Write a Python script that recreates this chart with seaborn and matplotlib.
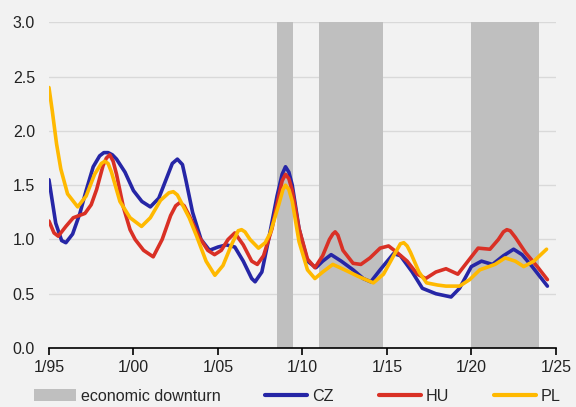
import numpy as np
import pandas as pd
import matplotlib
matplotlib.use("Agg")
import matplotlib.pyplot as plt
import seaborn as sns
from matplotlib.patches import Patch

# values (decimal years)
cz_year = [1995.0, 1995.4, 1995.75, 1996.0, 1996.4, 1996.83, 1997.2, 1997.62, 1998.0, 1998.25,
           1998.5, 1998.75, 1999.0, 1999.5, 2000.0, 2000.5, 2001.0, 2001.5, 2002.0, 2002.3,
           2002.6, 2002.9, 2003.1, 2003.5, 2004.0, 2004.5, 2005.0, 2005.5, 2006.0, 2006.5,
           2007.0, 2007.2, 2007.6, 2008.0, 2008.5, 2008.8, 2009.0, 2009.2, 2009.4, 2009.8,
           2010.3, 2010.8, 2011.2, 2011.7, 2012.3, 2013.0, 2013.6, 2014.05, 2014.6, 2015.4,
           2015.8, 2016.5, 2017.1, 2017.9, 2018.8, 2019.3, 2020.0, 2020.6, 2021.25, 2021.9,
           2022.5, 2023.0, 2023.6, 2024.0, 2024.5]
cz_val = [1.55, 1.15, 0.99, 0.97, 1.05, 1.24, 1.45, 1.67, 1.77, 1.80,
          1.80, 1.78, 1.74, 1.62, 1.45, 1.35, 1.30, 1.38, 1.58, 1.70,
          1.74, 1.69, 1.55, 1.25, 1.00, 0.90, 0.93, 0.95, 0.93, 0.80,
          0.64, 0.61, 0.70, 1.00, 1.40, 1.60, 1.67, 1.62, 1.50, 1.10,
          0.80, 0.74, 0.80, 0.86, 0.80, 0.72, 0.64, 0.61, 0.72, 0.87,
          0.85, 0.70, 0.55, 0.50, 0.47, 0.55, 0.75, 0.80, 0.77, 0.85,
          0.91, 0.86, 0.75, 0.67, 0.57]

hu_year = [1995.0, 1995.3, 1995.55, 1996.0, 1996.44, 1997.13, 1997.5, 1997.82, 1998.2, 1998.4,
           1998.6, 1998.8, 1999.0, 1999.4, 1999.8, 2000.1, 2000.6, 2001.17, 2001.7, 2002.2,
           2002.5, 2002.75, 2003.0, 2003.3, 2003.9, 2004.4, 2004.8, 2005.2, 2005.6, 2006.0,
           2006.5, 2007.0, 2007.33, 2007.7, 2008.2, 2008.6, 2008.8, 2009.0, 2009.2, 2009.4,
           2009.8, 2010.3, 2010.74, 2011.2, 2011.6, 2011.8, 2011.94, 2012.1, 2012.4, 2013.0,
           2013.46, 2014.0, 2014.6, 2015.1, 2015.6, 2016.2, 2016.8, 2017.3, 2017.9, 2018.5,
           2019.2, 2019.8, 2020.4, 2021.1, 2021.6, 2021.9, 2022.1, 2022.3, 2022.6, 2023.2,
           2023.9, 2024.5]
hu_val = [1.17, 1.06, 1.03, 1.12, 1.20, 1.24, 1.32, 1.46, 1.68, 1.75,
          1.78, 1.72, 1.60, 1.30, 1.09, 1.00, 0.90, 0.84, 1.00, 1.22,
          1.31, 1.34, 1.31, 1.22, 1.02, 0.90, 0.86, 0.90, 1.00, 1.06,
          0.95, 0.80, 0.77, 0.85, 1.10, 1.40, 1.54, 1.60, 1.56, 1.45,
          1.10, 0.82, 0.74, 0.85, 1.00, 1.05, 1.07, 1.04, 0.90, 0.78,
          0.77, 0.83, 0.92, 0.94, 0.88, 0.80, 0.68, 0.64, 0.70, 0.73,
          0.68, 0.80, 0.92, 0.91, 1.00, 1.07, 1.09, 1.08, 1.02, 0.88,
          0.75, 0.63]

pl_year = [1995.0, 1995.2, 1995.45, 1995.7, 1996.1, 1996.7, 1997.2, 1997.7, 1998.1, 1998.3,
           1998.5, 1998.7, 1999.2, 1999.8, 2000.48, 2001.0, 2001.6, 2002.1, 2002.36, 2002.6,
           2002.8, 2003.3, 2003.74, 2004.3, 2004.82, 2005.3, 2005.8, 2006.2, 2006.4, 2006.6,
           2006.9, 2007.4, 2007.8, 2008.1, 2008.6, 2008.85, 2009.0, 2009.2, 2009.4, 2009.8,
           2010.3, 2010.74, 2011.2, 2011.8, 2012.5, 2013.3, 2014.2, 2014.8, 2015.4, 2015.8,
           2016.0, 2016.2, 2016.4, 2016.9, 2017.35, 2018.0, 2018.5, 2019.3, 2019.9, 2020.5,
           2021.4, 2022.0, 2022.6, 2023.1, 2023.7, 2024.45]
pl_val = [2.40, 2.18, 1.88, 1.65, 1.42, 1.30, 1.40, 1.60, 1.70, 1.72,
          1.70, 1.62, 1.35, 1.20, 1.12, 1.20, 1.36, 1.43, 1.44, 1.41,
          1.35, 1.20, 1.03, 0.80, 0.67, 0.76, 0.95, 1.08, 1.09, 1.07,
          1.00, 0.92, 0.97, 1.06, 1.32, 1.46, 1.50, 1.46, 1.35, 0.98,
          0.72, 0.64, 0.70, 0.77, 0.72, 0.66, 0.60, 0.68, 0.85, 0.96,
          0.97, 0.94, 0.88, 0.70, 0.60, 0.58, 0.57, 0.57, 0.63, 0.72,
          0.77, 0.83, 0.80, 0.75, 0.80, 0.91]

downturn_start = [2008.5, 2011.0, 2020.0]
downturn_end = [2009.45, 2014.75, 2024.0]

xtick_years = [1995, 2000, 2005, 2010, 2015, 2020, 2025]
xtick_labels = ["1/95", "1/00", "1/05", "1/10", "1/15", "1/20", "1/25"]
yticks = [0.0, 0.5, 1.0, 1.5, 2.0, 2.5, 3.0]

colors = {"CZ": "#2626a6", "HU": "#d93025", "PL": "#ffb900"}


def main():
    df = pd.concat([
        pd.DataFrame({"year": cz_year, "value": cz_val, "country": "CZ"}),
        pd.DataFrame({"year": hu_year, "value": hu_val, "country": "HU"}),
        pd.DataFrame({"year": pl_year, "value": pl_val, "country": "PL"}),
    ])

    sns.set_theme(style="white")
    plt.rcParams['font.family'] = ['Liberation Sans', 'DejaVu Sans']

    fig = plt.figure(figsize=(5.76, 4.07), dpi=100, facecolor="#f2f2f2")
    ax = fig.add_axes([0.085, 0.145, 0.88, 0.80])
    ax.set_facecolor("#f2f2f2")

    for s, e in zip(downturn_start, downturn_end):
        ax.axvspan(s, e, color="#bfbfbf", lw=0, zorder=1)

    sns.lineplot(data=df, x="year", y="value", hue="country", palette=colors,
                 linewidth=2.6, legend=False, ax=ax, zorder=3, sort=False,
                 solid_joinstyle="round", solid_capstyle="round")

    ax.set_xlim(1995, 2025)
    ax.set_ylim(0, 3.0)
    ax.set_xticks(xtick_years)
    ax.set_xticklabels(xtick_labels)
    ax.set_yticks(yticks)
    ax.set_yticklabels([f"{v:.1f}" for v in yticks])
    ax.set_xlabel("")
    ax.set_ylabel("")

    ax.yaxis.grid(True, color="#d9d9d9", lw=1, zorder=0)
    ax.xaxis.grid(False)
    ax.set_axisbelow(True)
    for side in ["top", "right", "left"]:
        ax.spines[side].set_visible(False)
    ax.spines["bottom"].set_color("black")
    ax.spines["bottom"].set_linewidth(1.2)
    ax.spines["bottom"].set_zorder(4)
    ax.tick_params(axis="x", direction="out", length=5, width=1.2, color="black",
                   labelsize=11.5, colors="#222222", pad=4, bottom=True)
    ax.tick_params(axis="y", length=0, labelsize=11.5, colors="#222222", pad=10)

    handles = [Patch(facecolor="#bfbfbf", edgecolor="none", label="economic downturn")]
    for name in ["CZ", "HU", "PL"]:
        handles.append(plt.Line2D([], [], color=colors[name], lw=3, label=name))
    fig.legend(handles=handles, loc="lower center", bbox_to_anchor=(0.516, -0.028), ncol=4,
               frameon=False, fontsize=11.6, handlelength=2.6, handleheight=0.8,
               columnspacing=2.8, handletextpad=0.3)

    fig.savefig("out.png", dpi=100, facecolor=fig.get_facecolor())


if __name__ == '__main__':
    main()
